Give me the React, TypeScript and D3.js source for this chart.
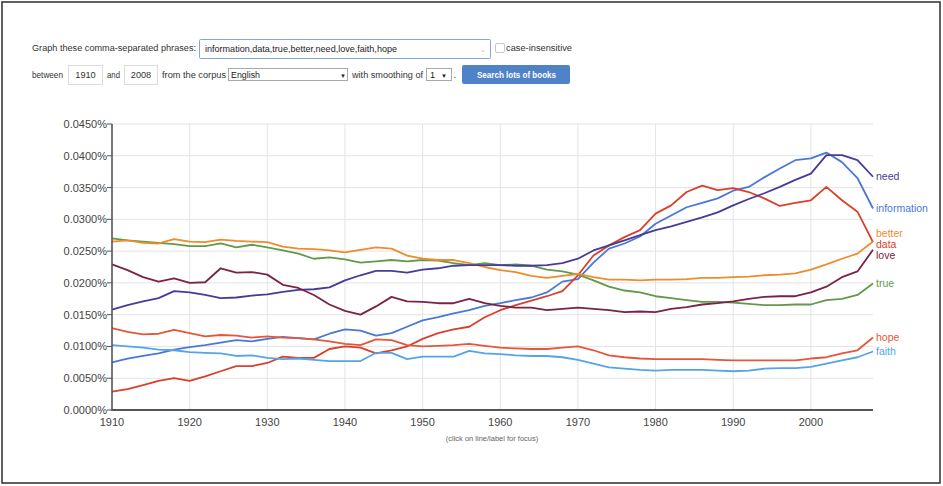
import React from "react";
import * as d3 from "d3";

const YEARS = d3.range(1910, 2009, 2);

const information = [
  0.0075, 0.0081, 0.0085, 0.0089, 0.0095, 0.0099, 0.0102, 0.0106, 0.011, 0.0108,
  0.0112, 0.0115, 0.0113, 0.0111, 0.012, 0.0127, 0.0125, 0.0117, 0.0121, 0.0131,
  0.0141, 0.0146, 0.0152, 0.0157, 0.0164, 0.0168, 0.0173, 0.0177, 0.0185, 0.0202,
  0.0206, 0.0232, 0.0254, 0.0262, 0.0273, 0.0293, 0.0306, 0.0319, 0.0326, 0.0333,
  0.0345, 0.0351, 0.0366, 0.038, 0.0393, 0.0396, 0.0405, 0.039, 0.0365, 0.0317,
];
const data = [
  0.0029, 0.0033, 0.0039, 0.0046, 0.005, 0.0046, 0.0053, 0.0061, 0.0069, 0.0069,
  0.0074, 0.0084, 0.0082, 0.0082, 0.0096, 0.01, 0.0098, 0.0089, 0.0094, 0.01,
  0.0112, 0.0121, 0.0127, 0.0131, 0.0146, 0.0157, 0.0165, 0.0172, 0.0179, 0.0187,
  0.0212, 0.0243, 0.0259, 0.0272, 0.0283, 0.0309, 0.0322, 0.0343, 0.0353, 0.0346,
  0.0349, 0.0343, 0.0333, 0.0321, 0.0326, 0.033, 0.0351, 0.033, 0.0312, 0.0264,
];
const trueVals = [
  0.027, 0.0267, 0.0265, 0.0263, 0.0261, 0.0258, 0.0258, 0.0262, 0.0256, 0.026,
  0.0256, 0.0251, 0.0246, 0.0238, 0.024, 0.0237, 0.0232, 0.0234, 0.0236, 0.0234,
  0.0236, 0.0235, 0.0231, 0.0228, 0.0231, 0.0228, 0.0229, 0.0227, 0.0221, 0.0218,
  0.0213, 0.0204, 0.0194, 0.0188, 0.0185, 0.0179, 0.0176, 0.0173, 0.017, 0.017,
  0.0169, 0.0167, 0.0165, 0.0165, 0.0166, 0.0166, 0.0173, 0.0175, 0.0181, 0.0199,
];
const better = [
  0.0265, 0.0267, 0.0263, 0.0262, 0.0269, 0.0265, 0.0264, 0.0268, 0.0266, 0.0265,
  0.0264, 0.0257, 0.0254, 0.0253, 0.0251, 0.0248, 0.0252, 0.0256, 0.0254, 0.0243,
  0.0238, 0.0236, 0.0236, 0.0231, 0.0225, 0.022, 0.0217, 0.0211, 0.0208, 0.0211,
  0.0214, 0.0209, 0.0205, 0.0205, 0.0204, 0.0205, 0.0205, 0.0206, 0.0208, 0.0208,
  0.0209, 0.021, 0.0212, 0.0213, 0.0215, 0.0221, 0.0229, 0.0238, 0.0246, 0.0265,
];
const need = [
  0.0158, 0.0165, 0.0171, 0.0176, 0.0187, 0.0185, 0.0181, 0.0176, 0.0177, 0.018,
  0.0182, 0.0186, 0.0189, 0.019, 0.0193, 0.0204, 0.0212, 0.0219, 0.0219, 0.0216,
  0.0221, 0.0223, 0.0227, 0.0228, 0.0228, 0.0228, 0.0227, 0.0227, 0.0228, 0.0231,
  0.0238, 0.0251, 0.0259, 0.0267, 0.0275, 0.0283, 0.0289, 0.0296, 0.0303, 0.0311,
  0.0322, 0.0332, 0.0341, 0.0351, 0.0362, 0.0372, 0.0401, 0.0401, 0.0393, 0.0367,
];
const love = [
  0.0229, 0.022, 0.0209, 0.0202, 0.0207, 0.02, 0.0201, 0.0223, 0.0216, 0.0217,
  0.0213, 0.0197, 0.0192, 0.0181, 0.0166, 0.0156, 0.015, 0.0163, 0.0178, 0.0171,
  0.017, 0.0168, 0.0168, 0.0175, 0.0168, 0.0164, 0.0161, 0.0161, 0.0157, 0.0159,
  0.0161, 0.0159, 0.0157, 0.0154, 0.0155, 0.0154, 0.0159, 0.0162, 0.0166, 0.0168,
  0.0171, 0.0175, 0.0178, 0.0179, 0.0179, 0.0185, 0.0194, 0.0209, 0.0218, 0.0252,
];
const faith = [
  0.0102, 0.01, 0.0098, 0.0095, 0.0094, 0.0091, 0.009, 0.0089, 0.0085, 0.0086,
  0.0082, 0.008, 0.0081, 0.0079, 0.0077, 0.0077, 0.0077, 0.009, 0.009, 0.008,
  0.0084, 0.0084, 0.0084, 0.0093, 0.0089, 0.0088, 0.0086, 0.0085, 0.0085, 0.0083,
  0.0079, 0.0073, 0.0067, 0.0065, 0.0063, 0.0062, 0.0063, 0.0063, 0.0063, 0.0062,
  0.0061, 0.0062, 0.0065, 0.0066, 0.0066, 0.0068, 0.0073, 0.0078, 0.0083, 0.0092,
];
const hope = [
  0.0129, 0.0123, 0.0119, 0.012, 0.0126, 0.0121, 0.0116, 0.0118, 0.0117, 0.0114,
  0.0116, 0.0114, 0.0113, 0.0111, 0.0108, 0.0104, 0.0102, 0.0111, 0.011, 0.0102,
  0.01, 0.0101, 0.0102, 0.0104, 0.0101, 0.0098, 0.0097, 0.0096, 0.0096, 0.0098,
  0.01, 0.0094, 0.0086, 0.0083, 0.0081, 0.008, 0.008, 0.008, 0.008, 0.0079,
  0.0078, 0.0078, 0.0078, 0.0078, 0.0078, 0.0081, 0.0083, 0.0089, 0.0094, 0.0114,
];

const SERIES_NAMES = ["information", "data", "true", "better", "need", "love", "faith", "hope"];
const SERIES_VALUES = [information, data, trueVals, better, need, love, faith, hope];
const SERIES_COLORS = ["#4a78d6", "#d9402b", "#62994a", "#f08b2c", "#463c98", "#7b2248", "#55a4e8", "#e3573a"];

const Y_TICKS = d3.range(0, 0.0451, 0.005);
const X_TICKS = d3.range(1910, 2001, 10);

const FONT = "'Liberation Sans', Arial, Helvetica, sans-serif";

function T(props: { x: number; y: number; w?: number; children: React.ReactNode; size?: number; fill?: string; anchor?: string; bold?: boolean }) {
  const { x, y, w, children, size = 9.2, fill = "#333", anchor = "start", bold = false } = props;
  return (
    <text
      x={x}
      y={y}
      fontSize={size}
      fill={fill}
      textAnchor={anchor}
      fontWeight={bold ? "bold" : "normal"}
      {...(w ? { textLength: w, lengthAdjust: "spacingAndGlyphs" } : {})}
    >
      {children}
    </text>
  );
}

export default function App() {
  const W = 943;
  const H = 486;
  const left = 112, right = 873, top = 124, bottom = 410;
  const x = d3.scaleLinear().domain([1910, 2008]).range([left, right]);
  const y = d3.scaleLinear().domain([0, 0.045]).range([bottom, top]);
  const line = d3
    .line<number>()
    .x((_, i) => x(YEARS[i]))
    .y((v) => y(v));
  const fmt = (v: number) => d3.format(".4f")(v) + "%";

  const labels = SERIES_NAMES.map((n, i) => ({
    name: n,
    color: SERIES_COLORS[i],
    y: y(SERIES_VALUES[i][SERIES_VALUES[i].length - 1]),
  }));
  labels.sort((a, b) => a.y - b.y);
  const gap = 10.6;
  for (let it = 0; it < 200; it++) {
    for (let i = 1; i < labels.length; i++) {
      const d = labels[i].y - labels[i - 1].y;
      if (d < gap) {
        const m = (gap - d) / 2;
        labels[i].y += m;
        labels[i - 1].y -= m;
      }
    }
  }

  return (
    <div style={{ position: "fixed", left: 0, top: 0, width: W, height: H, background: "#fff" }}>
      <svg width={W} height={H} style={{ display: "block", fontFamily: FONT }}>
        <rect x={0} y={0} width={W} height={H} fill="#fff" />
        <rect x={2} y={2} width={938} height={481} fill="none" stroke="#3a3a3a" strokeWidth={1.6} />

        {/* form row 1 */}
        <T x={32} y={51} w={164}>Graph these comma-separated phrases:</T>
        <rect x={199.5} y={39.5} width={291} height={19} fill="#fff" stroke="#84a6da" strokeWidth={1} rx={1} />
        <T x={205} y={52} w={192} fill="#222">information,data,true,better,need,love,faith,hope</T>
        <T x={480} y={52} size={7} fill="#bbb">⌄</T>
        <rect x={495.5} y={43.5} width={9} height={9} fill="#fff" stroke="#c8c8c8" rx={1.5} />
        <T x={506} y={51} w={66}>case-insensitive</T>

        {/* form row 2 */}
        <T x={32} y={78} w={31}>between</T>
        <rect x={68.5} y={65.5} width={34} height={19} fill="#fff" stroke="#dcdcdc" />
        <T x={85.5} y={78} anchor="middle">1910</T>
        <T x={107} y={78} w={13}>and</T>
        <rect x={124.5} y={65.5} width={33} height={19} fill="#fff" stroke="#dcdcdc" />
        <T x={141} y={78} anchor="middle">2008</T>
        <T x={162} y={78} w={64}>from the corpus</T>
        <rect x={228.5} y={68.5} width={119} height={12} fill="#fff" stroke="#a9a9a9" />
        <T x={231} y={78} w={29} fill="#222">English</T>
        <T x={340} y={77.5} size={6} fill="#222">▼</T>
        <T x={352} y={78} w={71}>with smoothing of</T>
        <rect x={426.5} y={68.5} width={25} height={12} fill="#fff" stroke="#a9a9a9" />
        <T x={430} y={78} fill="#222">1</T>
        <T x={441} y={77.5} size={6} fill="#222">▼</T>
        <T x={453.5} y={78}>.</T>
        <rect x={462} y={65} width={108} height={19} fill="#4f82c7" rx={2} />
        <T x={477} y={78} w={79} size={8.5} fill="#fff" bold>Search lots of books</T>

        {/* gridlines */}
        {Y_TICKS.slice(1).map((t) => (
          <line key={"gy" + t} x1={left} x2={right} y1={y(t)} y2={y(t)} stroke="#e4e4e4" strokeWidth={1} />
        ))}
        {X_TICKS.slice(1).map((t) => (
          <line key={"gx" + t} x1={x(t)} x2={x(t)} y1={top} y2={bottom} stroke="#e4e4e4" strokeWidth={1} />
        ))}

        {/* series */}
        {SERIES_VALUES.map((vals, i) => (
          <path key={SERIES_NAMES[i]} d={line(vals) || ""} fill="none" stroke={SERIES_COLORS[i]} strokeWidth={1.8} strokeLinejoin="round" />
        ))}

        {/* axes */}
        <line x1={left} x2={left} y1={top} y2={bottom + 1} stroke="#555" strokeWidth={1.6} />
        <line x1={left} x2={right} y1={bottom} y2={bottom} stroke="#555" strokeWidth={2} />
        {Y_TICKS.map((t) => (
          <g key={"yt" + t}>
            <line x1={left - 5} x2={left} y1={y(t)} y2={y(t)} stroke="#555" strokeWidth={1} />
            <text x={left - 5} y={y(t) + 4} fontSize={11} fill="#444" textAnchor="end">{fmt(t)}</text>
          </g>
        ))}
        {X_TICKS.map((t) => (
          <text key={"xt" + t} x={x(t)} y={426} fontSize={11} fill="#444" textAnchor="middle">{t}</text>
        ))}
        <text x={492} y={441} fontSize={7.5} fill="#666" textAnchor="middle">(click on line/label for focus)</text>

        {/* end labels */}
        {labels.map((l) => (
          <text key={"lb" + l.name} x={right + 3} y={l.y + 3.5} fontSize={10.5} fill={l.color}>{l.name}</text>
        ))}
      </svg>
    </div>
  );
}
